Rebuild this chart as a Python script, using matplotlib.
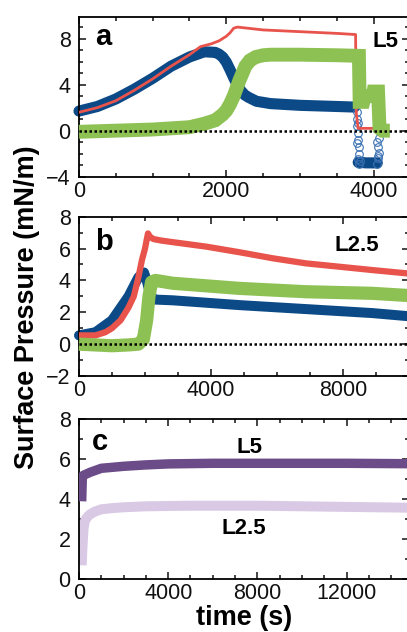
import matplotlib
matplotlib.use("Agg")
import matplotlib.pyplot as plt
from matplotlib.ticker import MultipleLocator

plt.rcParams["font.family"] = ["Liberation Sans", "DejaVu Sans"]

# --- panel a: L5 ---
a_blue_t = [0, 250, 500, 750, 1000, 1250, 1500, 1700, 1850, 1900, 1950, 2000, 2050, 2100,
            2150, 2200, 2250, 2300, 2410, 2600, 3000, 3500, 3740]
a_blue_p = [1.7, 2.1, 2.75, 3.6, 4.55, 5.6, 6.4, 6.85, 6.8, 6.65, 6.4, 5.95, 5.3, 4.6,
            3.95, 3.45, 3.1, 2.9, 2.55, 2.35, 2.2, 2.1, 2.05]
a_blue_low_t = [3790, 3900, 4050]
a_blue_low_p = [-2.75, -2.8, -2.8]
a_open_t = [3770, 3775, 3780, 3785, 3790, 3795, 3800, 3790, 3780, 3800, 3790, 3810,
            4050, 4060, 4070, 4060, 4050, 4070, 4060]
a_open_p = [1.6, 1.0, 0.4, -0.2, -0.8, -1.4, -2.0, -2.5, -1.1, -2.9, 0.7, -2.6,
            -2.9, -2.4, -1.9, -1.4, -1.0, -0.6, -2.2]
a_red_t = [0, 250, 500, 750, 1000, 1250, 1500, 1650, 1800, 1900, 2000, 2050, 2100, 2150,
           2500, 3000, 3500, 3755, 3765, 3790, 4030]
a_red_p = [1.6, 2.0, 2.6, 3.5, 4.5, 5.6, 6.6, 7.3, 7.55, 7.8, 8.2, 8.5, 8.9, 9.0,
           8.75, 8.6, 8.45, 8.35, 1.5, 0.2, 0.2]
a_green_t = [0, 500, 1000, 1500, 1700, 1850, 1900, 1950, 2000, 2050, 2100, 2140, 2180, 2220,
             2260, 2320, 2400, 2500, 2600, 3000, 3500, 3800, 3810, 3860, 3880, 3990, 4000,
             4060, 4080, 4120, 4220]
a_green_p = [-0.1, 0.0, 0.1, 0.3, 0.6, 0.9, 1.15, 1.4, 1.75, 2.3, 3.0, 3.7, 4.4, 5.0,
             5.6, 6.1, 6.4, 6.55, 6.6, 6.6, 6.55, 6.5, 2.5, 2.5, 3.0, 3.0, 3.4,
             3.4, 0.2, 0.0, 0.0]

# --- panel b: L2.5 ---
b_red_t = [0, 500, 800, 1000, 1260, 1500, 1660, 1800, 1910, 2000, 2090, 2150, 2250, 2500,
           2850, 3860, 4860, 5870, 6880, 7890, 8890, 9900, 10000]
b_red_p = [0.55, 0.55, 0.75, 1.0, 1.5, 2.3, 3.0, 4.2, 5.3, 6.0, 6.95, 6.75, 6.6, 6.5,
           6.4, 6.12, 5.77, 5.39, 5.07, 4.86, 4.65, 4.45, 4.43]
b_blue_t = [0, 500, 1000, 1500, 1800, 1970, 2050, 2150, 2270, 2850, 4860, 6880, 8890, 10000]
b_blue_p = [0.55, 0.75, 1.5, 3.0, 4.2, 4.5, 4.0, 3.2, 2.8, 2.75, 2.45, 2.2, 1.95, 1.75]
b_green_t = [0, 500, 1000, 1500, 1800, 1950, 2050, 2120, 2200, 2320, 2850, 4860, 6880, 8890, 10000]
b_green_p = [0.0, -0.05, -0.1, -0.05, 0.0, 0.3, 1.5, 3.0, 3.9, 4.0, 3.82, 3.5, 3.29, 3.19, 3.05]

# --- panel c ---
c_l5_t = [120, 150, 200, 300, 500, 1000, 2000, 3000, 4000, 6000, 8000, 10000, 12000, 14800]
c_l5_p = [3.9, 5.15, 5.2, 5.25, 5.35, 5.55, 5.65, 5.72, 5.77, 5.8, 5.8, 5.8, 5.8, 5.78]
c_l25_t = [120, 150, 200, 250, 300, 400, 500, 700, 1000, 1500, 2000, 3000, 5000, 8000, 12000, 14800]
c_l25_p = [0.7, 1.5, 2.5, 2.85, 3.0, 3.15, 3.25, 3.38, 3.5, 3.56, 3.6, 3.65, 3.68, 3.68, 3.62, 3.58]

BLUE = "#0b4a87"
BLUE_OPEN = "#3c72b4"
RED = "#e8534c"
GREEN = "#8dc153"
PURPLE_DARK = "#6b4b88"
PURPLE_LIGHT = "#d9c9e5"

W, H = 407, 632
fig = plt.figure(figsize=(W / 100, H / 100), dpi=100)


def fx(px):
    return px / W


def fy(py):
    return 1 - py / H


def make_axes(top_px, bottom_px):
    return fig.add_axes([fx(79), fy(bottom_px), 330 / W, (bottom_px - top_px) / H])


def style(ax, xlim, ylim, xmaj, xmin, ymaj, ymin):
    ax.set_xlim(*xlim)
    ax.set_ylim(*ylim)
    ax.xaxis.set_major_locator(MultipleLocator(xmaj))
    ax.xaxis.set_minor_locator(MultipleLocator(xmin))
    ax.yaxis.set_major_locator(MultipleLocator(ymaj))
    ax.yaxis.set_minor_locator(MultipleLocator(ymin))
    ax.tick_params(which="both", direction="in", top=True, right=True, width=1.1,
                   labelsize=15.5, colors="#111111")
    ax.tick_params(which="major", length=5)
    ax.tick_params(which="minor", length=3)
    ax.tick_params(axis="x", pad=3)
    ax.tick_params(axis="y", pad=6)
    for s in ax.spines.values():
        s.set_linewidth(1.3)


def zero_line(ax, xmax):
    ax.plot([0, xmax], [0, 0], color="black", lw=1.8, linestyle=(0, (1, 1)), zorder=6)


# a
ax1 = make_axes(16.7, 176.7)
ax1.plot(a_blue_t, a_blue_p, color=BLUE, lw=8, solid_capstyle="round", zorder=2, clip_on=False)
ax1.plot(a_blue_low_t, a_blue_low_p, color=BLUE, lw=8, solid_capstyle="round", zorder=2)
ax1.plot(a_open_t, a_open_p, linestyle="none", marker="o", ms=5.5, mfc="none",
         mec=BLUE_OPEN, mew=0.8, zorder=2)
ax1.plot(a_red_t, a_red_p, color=RED, lw=2, zorder=3)
ax1.plot(a_green_t, a_green_p, color=GREEN, lw=10, solid_capstyle="butt",
         solid_joinstyle="miter", zorder=4, clip_on=False)
zero_line(ax1, 4480)
style(ax1, (0, 4480), (-4, 9.9), 2000, 500, 4, 1)

# b
ax2 = make_axes(216.7, 376)
ax2.plot(b_blue_t, b_blue_p, color=BLUE, lw=7.2, solid_capstyle="round", zorder=2, clip_on=False)
ax2.plot(b_red_t, b_red_p, color=RED, lw=4.5, zorder=3)
ax2.plot(b_green_t, b_green_p, color=GREEN, lw=9.5, solid_capstyle="butt", zorder=4, clip_on=False)
zero_line(ax2, 10000)
style(ax2, (0, 10000), (-2, 8), 4000, 1000, 2, 1)

# c
ax3 = make_axes(419.3, 579.3)
ax3.plot(c_l5_t, c_l5_p, color=PURPLE_DARK, lw=6.8, solid_capstyle="butt", zorder=3)
ax3.plot(c_l25_t, c_l25_p, color=PURPLE_LIGHT, lw=7.2, solid_capstyle="butt", zorder=2)
style(ax3, (0, 14800), (0, 8), 4000, 1000, 2, 1)

# panel annotations
bold_big = dict(fontsize=21, fontweight="bold", ha="left", va="baseline")
bold_mid = dict(fontsize=16, fontweight="bold", ha="left", va="baseline")
fig.text(fx(95), fy(45), "a", **bold_big)
fig.text(fx(372), fy(47), "L5", **bold_mid)
fig.text(fx(95), fy(250), "b", **bold_big)
fig.text(fx(335), fy(251), "L2.5", **bold_mid)
fig.text(fx(92), fy(450), "c", **bold_big)
fig.text(fx(237), fy(453), "L5", **bold_mid)
fig.text(fx(222), fy(534), "L2.5", **bold_mid)

fig.text(fx(27), fy(307), "Surface Pressure (mN/m)", rotation=90, fontsize=19.5,
         fontweight="bold", ha="center", va="center")
fig.text(fx(244), fy(625), "time (s)", fontsize=19.5, fontweight="bold",
         ha="center", va="baseline")

fig.savefig("out.png", dpi=100)
